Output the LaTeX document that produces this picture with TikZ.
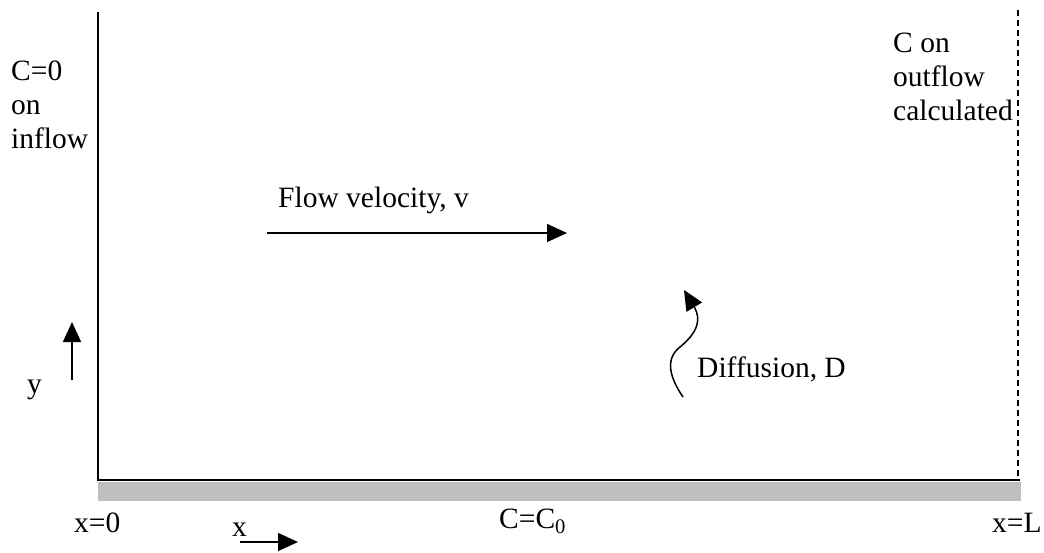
\documentclass[tikz,border=0pt]{standalone}
\usepackage{fontspec}
\setmainfont{Liberation Serif}
\usetikzlibrary{arrows.meta}
\begin{document}
\begin{tikzpicture}[x=1pt,y=-1pt,
  lbl/.style={inner sep=0pt,anchor=base west,font=\fontsize{29.5}{34}\selectfont},
  arr/.style={line width=1.5pt,-{Triangle[length=20pt,width=18pt]}},
  frame/.style={line width=2pt},
  bc/.style={fill=black!25,draw=none}]
\useasboundingbox (0,0) rectangle (1044,552);
% domain
\fill[bc] (98,481.5) rectangle (1021,500.5);
\draw[frame] (98,12) -- (98,481);
\draw[line width=2.5pt] (97,480) -- (1020,480);
\draw[line width=1.4pt,dash pattern=on 6pt off 4pt] (1018,10) -- (1018,479);
% labels
\node[lbl,align=left] (inflow) at (11,148) {C=0\\on\\inflow};
\node[lbl,align=left] (outflow) at (893,120) {C on\\outflow\\calculated};
\node[lbl] (flow) at (278,207) {Flow velocity, v};
\node[lbl] (diff) at (697,377) {Diffusion, D};
\node[lbl] (ylab) at (27,393) {y};
\node[lbl] (xlab) at (232,536) {x};
\node[lbl] (x0) at (74,532) {x=0};
\node[lbl] (c0) at (499,528) {C=C\textsubscript{0}};
\node[lbl] (xL) at (992,532) {x=L};
% arrows
\coordinate (fa) at (267,233);
\coordinate (fb) at (567,233);
\draw[arr] (fa) -- (fb);
\coordinate (ya) at (72,380);
\coordinate (yb) at (72,322);
\draw[arr] (ya) -- (yb);
\coordinate (xa) at (240,542);
\coordinate (xb) at (298,542);
\draw[arr] (xa) -- (xb);
\coordinate (da) at (683,397);
\coordinate (dm) at (680,347);
\coordinate (db) at (684,290);
\draw[arr] (da) .. controls (668,375) and (666,358) .. (dm) .. controls (697,333) and (702,320) .. (db);
\end{tikzpicture}
\end{document}
